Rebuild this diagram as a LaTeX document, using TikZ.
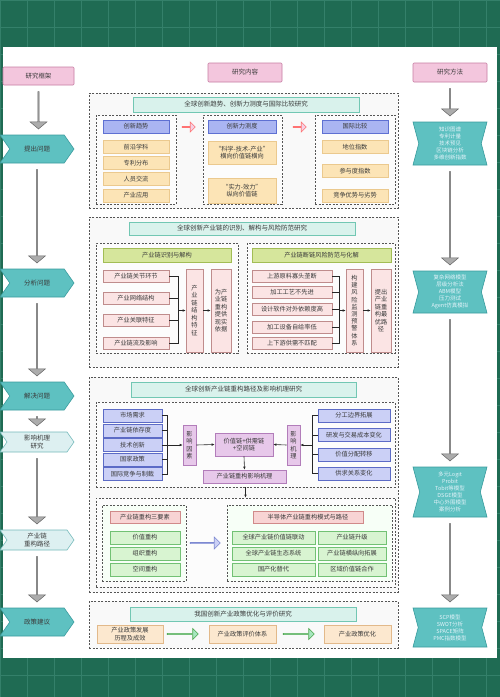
\documentclass[tikz,border=0pt]{standalone}
\usepackage{fontspec}
\newfontfamily\cjk{Noto Sans CJK SC}
\usetikzlibrary{positioning,calc,shapes.symbols,shapes.arrows,arrows.meta}

\definecolor{board}{HTML}{1F6B53}
\definecolor{boardline}{HTML}{34806A}
\definecolor{ink}{HTML}{3A3A3A}
\definecolor{dashc}{HTML}{555555}
\definecolor{pinkf}{HTML}{F3C6DD}\definecolor{pinkd}{HTML}{C77DA3}
\definecolor{tealf}{HTML}{5EC1C1}\definecolor{teald}{HTML}{3A9C9E}
\definecolor{lteal}{HTML}{DDF0F1}
\definecolor{methink}{HTML}{E4F3FA}
\definecolor{titlef}{HTML}{D9F2EC}\definecolor{titled}{HTML}{72C7B3}
\definecolor{bluef}{HTML}{AAB5F2}\definecolor{blued}{HTML}{5E70D2}
\definecolor{orgf}{HTML}{FCE4B6}\definecolor{orgd}{HTML}{EBC98E}
\definecolor{ygf}{HTML}{D6E69C}\definecolor{ygd}{HTML}{A2BD55}
\definecolor{rosef}{HTML}{FBE4E4}\definecolor{rosed}{HTML}{BF8C8C}
\definecolor{lbluef}{HTML}{CBD0F6}\definecolor{lblued}{HTML}{5C6BC6}
\definecolor{purf}{HTML}{E7C8EA}\definecolor{purd}{HTML}{B27DBA}
\definecolor{grnf}{HTML}{D8F4D1}\definecolor{grnd}{HTML}{72C174}
\definecolor{redf}{HTML}{F8D4D4}\definecolor{redd}{HTML}{D08A8A}
\definecolor{polf}{HTML}{FCE8CF}\definecolor{pold}{HTML}{E2B98A}

\tikzset{
  boxbase/.style={draw, line width=.6pt, text=ink, inner sep=1pt, align=center},
  wh/.style 2 args={minimum width=#1pt, minimum height=#2pt},
  headbox/.style={boxbase, fill=pinkf, draw=pinkd, rounded corners=1pt, font=\cjk\fontsize{6.5}{8}\selectfont},
  stage/.style={boxbase, signal, signal to=east, signal from=west, signal pointer angle=110,
    fill=tealf, draw=teald, font=\cjk\fontsize{6.5}{8}\selectfont},
  substage/.style={stage, fill=lteal, draw=teald!70},
  method/.style={boxbase, signal, signal to=nowhere, signal from=west and east, signal pointer angle=150,
    fill=tealf, draw=teald, text=methink, font=\cjk\fontsize{5.5}{7}\selectfont},
  sect/.style={draw=dashc, dash pattern=on 2pt off 1.5pt, line width=.7pt, fill=gray!5},
  subsect/.style={sect, fill=gray!2},
  titlebar/.style={boxbase, fill=titlef, draw=titled, font=\cjk\fontsize{6.5}{8}\selectfont},
  trend/.style={boxbase, fill=bluef, draw=blued},
  orgbox/.style={boxbase, fill=orgf, draw=orgd},
  ygbox/.style={boxbase, fill=ygf, draw=ygd},
  rosebox/.style={boxbase, fill=rosef, draw=rosed},
  lbluebox/.style={boxbase, fill=lbluef, draw=lblued},
  purbox/.style={boxbase, fill=purf, draw=purd},
  grnbox/.style={boxbase, fill=grnf, draw=grnd},
  redbox/.style={boxbase, fill=redf, draw=redd},
  polbox/.style={boxbase, fill=polf, draw=pold},
  blk/.style={single arrow, shape border rotate=270, fill=gray!65, draw=black!60, line width=.5pt,
    minimum width=17pt, single arrow head extend=3.5pt, single arrow tip angle=100, inner sep=0pt},
  hollow/.style={single arrow, line width=.6pt, inner sep=0pt},
  wire/.style={line width=.6pt, black!85}
}

% gray block arrow between two stacked nodes
\newcommand\flowdown[2]{%
  \path let \p1=(#1.south), \p2=(#2.north), \n1={\y1-\y2-12pt} in
    node[blk, minimum height=\n1, anchor=tail] at ({\x1},{\y1-6pt}) {};}

\begin{document}
\begin{tikzpicture}[x=1pt, y=-1pt, font=\cjk\fontsize{6.2}{7.5}\selectfont, >={Latex[length=3pt,width=2.6pt]}]
  \useasboundingbox (0,0) rectangle (500,697);
  % chalkboard
  \fill[board] (0,0) rectangle (500,697);
  \foreach \gx in {0,27,...,500} \draw[boardline, line width=.5pt] (\gx,0) -- (\gx,697);
  \foreach \gy in {0,27,...,697} \draw[boardline, line width=.5pt] (0,\gy) -- (500,\gy);
  \fill[white] (3,47) rectangle (497,658);

  % column heads
  \node[headbox, wh={71}{18}] (frame) at (38.5,76) {研究框架};
  \node[headbox, wh={74}{19}] (content) at (245,72.5) {研究内容};
  \node[headbox, wh={74}{19}] (method) at (450,72.5) {研究方法};

  % framework column
  \node[stage, wh={74}{28}] (q1) at (37,149) {提出问题};
  \node[stage, wh={74}{28}] (q2) at (37,283) {分析问题};
  \node[stage, wh={74}{28}] (q3) at (37,396) {解决问题};
  \node[substage, wh={74}{20}] (q4) at (37,442) {影响机理\\研究};
  \node[substage, wh={74}{20}] (q5) at (37,540) {产业链\\重构路径};
  \node[stage, wh={74}{28}] (q6) at (37,622) {政策建议};
  \flowdown{frame}{q1}
  \flowdown{q1}{q2}
  \flowdown{q2}{q3}
  \flowdown{q3}{q4}
  \flowdown{q4}{q5}
  \flowdown{q5}{q6}

  % method column
  \node[method, wh={74}{43}] (m1) at (450,143.5) {知识图谱\\专利计量\\技术预见\\区块链分析\\多维创新指数};
  \node[method, wh={74}{42}] (m2) at (450,292) {复杂网络模型\\层级分析法\\ABM模型\\压力测试\\Agent仿真模拟};
  \node[method, wh={74}{50}] (m3) at (450,492) {多元Logit\\Probit\\Tobit等模型\\DSGE模型\\中心外围模型\\案例分析};
  \node[method, wh={74}{39}] (m4) at (450,627.5) {SCP模型\\SWOT分析\\SPACE矩阵\\PMC指数模型};
  \flowdown{method}{m1}
  \flowdown{m1}{m2}
  \flowdown{m2}{m3}
  \flowdown{m3}{m4}

  % part 1
  \node[sect, wh={309}{115}] (s1) at (243.5,150.5) {};
  \node[titlebar, wh={226}{15}] (t1) at (246,104.5) {全球创新趋势、创新力测度与国际比较研究};
  \node[subsect, wh={80}{89}] (s1a) at (136,159.5) {};
  \node[subsect, wh={79}{89}] (s1b) at (242.5,159.5) {};
  \node[subsect, wh={80}{89}] (s1c) at (355,159.5) {};
  \node[trend, wh={66}{13}] (ha) at (136,126.5) {创新趋势};
  \node[orgbox, wh={66}{13}] (a1) at (136,147) {前沿学科};
  \node[orgbox, wh={66}{13}] (a2) at (136,163) {专利分布};
  \node[orgbox, wh={66}{13}] (a3) at (136,179) {人员交流};
  \node[orgbox, wh={66}{13}] (a4) at (136,195.5) {产业应用};
  \node[trend, wh={68}{13}] (hb) at (242,126.5) {创新力测度};
  \node[orgbox, wh={68}{23}] (b1) at (242,152.5) {“科学-技术-产业”\\横向价值链横向};
  \node[orgbox, wh={68}{25}] (b2) at (242,190.5) {“实力-效力”\\纵向价值链};
  \node[trend, wh={66}{13}] (hc) at (355,126.5) {国际比较};
  \node[orgbox, wh={66}{13}] (c1) at (355,147) {地位指数};
  \node[orgbox, wh={66}{13}] (c2) at (355,171) {参与度指数};
  \node[orgbox, wh={66}{13}] (c3) at (355,195.5) {竞争优势与劣势};
  \node[hollow, fill=pinkf!80, draw=red!55, minimum height=13pt, minimum width=10pt,
    single arrow head extend=2.5pt] (pa1) at (188.5,127) {};
  \node[hollow, fill=pinkf!80, draw=red!55, minimum height=13pt, minimum width=10pt,
    single arrow head extend=2.5pt] (pa2) at (299.5,127) {};

  % part 2
  \node[sect, wh={309}{150}] (s2) at (243.5,292) {};
  \node[titlebar, wh={226}{13}] (t2) at (242,228.5) {全球创新产业链的识别、解构与风险防范研究};
  \node[subsect, wh={142}{110}] (s2l) at (167,298) {};
  \node[subsect, wh={148}{110}] (s2r) at (321,298) {};
  \node[ygbox, wh={128}{14}] (hl) at (167,255) {产业链识别与解构};
  \node[rosebox, wh={66}{12}] (l1) at (136,276) {产业链关节环节};
  \node[rosebox, wh={66}{12}] (l2) at (136,298.5) {产业网络结构};
  \node[rosebox, wh={66}{12}] (l3) at (136,320.5) {产业关联特征};
  \node[rosebox, wh={66}{12}] (l4) at (136,343) {产业链流及影响};
  \node[rosebox, wh={17}{83}] (v1) at (194.5,310.5) {产\\业\\链\\结\\构\\特\\征};
  \node[rosebox, wh={20}{83}] (v2) at (221,310.5) {为产\\业链\\重构\\提供\\现实\\依据};
  \coordinate (lsp) at (178,310.5);
  \foreach \i in {1,...,4} \draw[wire] (l\i.east) -| (lsp);
  \draw[wire,->] (lsp) -- (v1.west);
  \draw[wire,->] (v1.east) -- (v2.west);
  \node[ygbox, wh={139}{14}] (hr) at (321.5,255) {产业链断链风险防范与化解};
  \node[rosebox, wh={80}{12}] (r1) at (292,276) {上游原料寡头垄断};
  \node[rosebox, wh={80}{12}] (r2) at (292,292) {加工工艺不先进};
  \node[rosebox, wh={80}{12}] (r3) at (292,309.5) {设计软件对外依赖度高};
  \node[rosebox, wh={80}{12}] (r4) at (292,327) {加工设备自给率低};
  \node[rosebox, wh={80}{12}] (r5) at (292,343) {上下游供需不匹配};
  \node[rosebox, wh={17}{83}, font=\cjk\fontsize{6.2}{7.2}\selectfont] (v3) at (354.5,310.5) {构\\建\\风\\险\\监\\测\\预\\警\\体\\系};
  \node[rosebox, wh={20}{83}] (v4) at (381,310.5) {提出\\产业\\链重\\构最\\优路\\径};
  \coordinate (rsp) at (339,310.5);
  \foreach \i in {1,...,5} \draw[wire] (r\i.east) -| (rsp);
  \draw[wire,->] (rsp) -- (v3.west);
  \draw[wire,->] (v3.east) -- (v4.west);

  % part 3
  \node[sect, wh={309}{215}] (s3) at (243.5,484.5) {};
  \node[titlebar, wh={225}{15}] (t3) at (243.5,389.5) {全球创新产业链重构路径及影响机理研究};
  \node[subsect, wh={299}{85}] (s3u) at (245.5,444.5) {};
  \node[lbluebox, wh={59}{13}] (f1) at (132.5,415.5) {市场需求};
  \node[lbluebox, wh={59}{13}] (f2) at (132.5,430.5) {产业链依存度};
  \node[lbluebox, wh={59}{13}] (f3) at (132.5,445) {技术创新};
  \node[lbluebox, wh={59}{13}] (f4) at (132.5,459.5) {国家政策};
  \node[lbluebox, wh={59}{13}] (f5) at (132.5,474) {国际竞争与制裁};
  \node[purbox, wh={13}{40}] (fac) at (189.5,445) {影\\响\\因\\素};
  \node[purbox, wh={58}{23}] (core) at (244,444.5) {价值链+供需链\\+空间链};
  \node[purbox, wh={83}{13}] (impact) at (244.5,476.5) {产业链重构影响机理};
  \node[purbox, wh={13}{40}] (mech) at (293.5,445) {影\\响\\机\\理};
  \node[lbluebox, wh={72}{13}] (g1) at (354,415.5) {分工边界拓展};
  \node[lbluebox, wh={72}{13}] (g2) at (354,435) {研发与交易成本变化};
  \node[lbluebox, wh={72}{13}] (g3) at (354,454.5) {价值分配转移};
  \node[lbluebox, wh={72}{13}] (g4) at (354,473.5) {供求关系变化};
  \coordinate (fsp) at (167,445);
  \foreach \i in {1,...,5} \draw[wire] (f\i.east) -| (fsp);
  \draw[wire,->] (fsp) -- (fac.west);
  \draw[wire,->] (fac.east) -- (core.west);
  \coordinate (gsp) at (312,445);
  \foreach \i in {1,...,4} \draw[wire] (g\i.west) -| (gsp);
  \draw[wire,->] (gsp) -- (mech.east);
  \draw[wire,->] (mech.west) -- (core.east);
  \draw[wire,->] (core.south) -- (impact.north);

  \node[subsect, wh={299}{89}] (s3d) at (245.5,542.5) {};
  \draw[wire,->] (s3u.south) -- (s3d.north);
  \node[subsect, fill=green!3, wh={84}{76}] (s3dl) at (144,543) {};
  \node[redbox, wh={70}{12}] (e0) at (145,517.5) {产业链重构三要素};
  \node[grnbox, wh={70}{13}] (e1) at (145,537.5) {价值重构};
  \node[grnbox, wh={70}{13}] (e2) at (145,553.5) {组织重构};
  \node[grnbox, wh={70}{13}] (e3) at (145,569.5) {空间重构};
  \node[hollow, fill=lbluef, draw=lblued!80, minimum height=30pt, minimum width=12pt,
    single arrow head extend=3pt] (ba) at (205,543) {};
  \node[subsect, fill=green!3, wh={165}{76}] (s3dr) at (309.5,543) {};
  \node[redbox, wh={110}{12}] (p0) at (308,517.5) {半导体产业链重构模式与路径};
  \node[grnbox, wh={83}{13}] (p1) at (273.5,537.5) {全球产业链价值链联动};
  \node[grnbox, wh={83}{13}] (p2) at (273.5,553.5) {全球产业链生态系统};
  \node[grnbox, wh={83}{13}] (p3) at (273.5,569.5) {国产化替代};
  \node[grnbox, wh={68}{13}] (p4) at (352,537.5) {产业链升级};
  \node[grnbox, wh={68}{13}] (p5) at (352,553.5) {产业链横纵向拓展};
  \node[grnbox, wh={68}{13}] (p6) at (352,569.5) {区域价值链合作};

  % part 4
  \node[sect, wh={309}{47}] (s4) at (243.5,624.5) {};
  \node[titlebar, wh={226}{14}] (t4) at (243,614) {我国创新产业政策优化与评价研究};
  \node[polbox, wh={66}{18}] (o1) at (130,634) {产业政策发展\\历程及成效};
  \node[polbox, wh={67}{18}] (o2) at (242.5,634) {产业政策评价体系};
  \node[polbox, wh={67}{18}] (o3) at (357.5,634) {产业政策优化};
  \node[hollow, fill=green!45!teal!35, draw=green!50!black!70, minimum height=31pt, minimum width=11pt,
    single arrow head extend=2.5pt] (ga1) at (182.5,634) {};
  \node[hollow, fill=green!45!teal!35, draw=green!50!black!70, minimum height=31pt, minimum width=11pt,
    single arrow head extend=2.5pt] (ga2) at (298.5,634) {};
\end{tikzpicture}
\end{document}
